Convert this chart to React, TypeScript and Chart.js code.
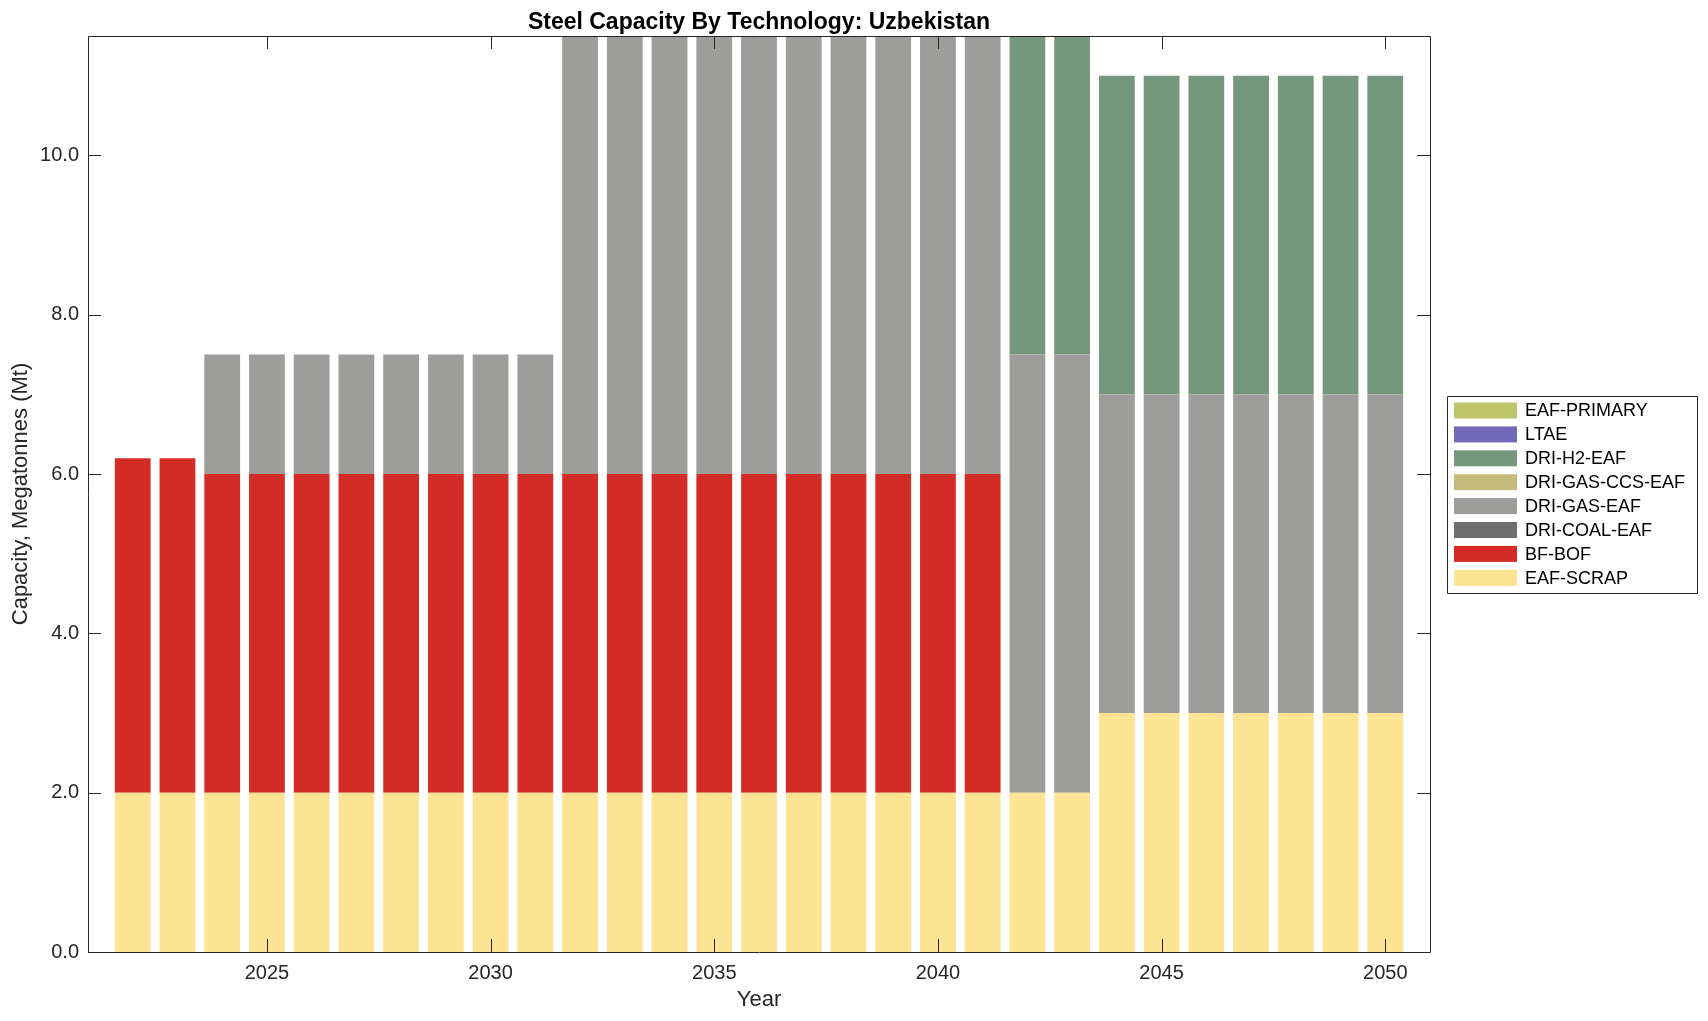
import React, { useEffect, useRef } from "react";
import { Chart, registerables } from "chart.js";

Chart.register(...registerables);

const years = [2022, 2023, 2024, 2025, 2026, 2027, 2028, 2029, 2030, 2031, 2032, 2033, 2034, 2035, 2036, 2037, 2038, 2039, 2040, 2041, 2042, 2043, 2044, 2045, 2046, 2047, 2048, 2049, 2050];

const eafScrap = [2, 2, 2, 2, 2, 2, 2, 2, 2, 2, 2, 2, 2, 2, 2, 2, 2, 2, 2, 2, 2, 2, 3, 3, 3, 3, 3, 3, 3];
const bfBof = [4.2, 4.2, 4, 4, 4, 4, 4, 4, 4, 4, 4, 4, 4, 4, 4, 4, 4, 4, 4, 4, 0, 0, 0, 0, 0, 0, 0, 0, 0];
const driCoalEaf = [0, 0, 0, 0, 0, 0, 0, 0, 0, 0, 0, 0, 0, 0, 0, 0, 0, 0, 0, 0, 0, 0, 0, 0, 0, 0, 0, 0, 0];
const driGasEaf = [0, 0, 1.5, 1.5, 1.5, 1.5, 1.5, 1.5, 1.5, 1.5, 6, 6, 6, 6, 6, 6, 6, 6, 6, 6, 5.5, 5.5, 4, 4, 4, 4, 4, 4, 4];
const driGasCcsEaf = [0, 0, 0, 0, 0, 0, 0, 0, 0, 0, 0, 0, 0, 0, 0, 0, 0, 0, 0, 0, 0, 0, 0, 0, 0, 0, 0, 0, 0];
const driH2Eaf = [0, 0, 0, 0, 0, 0, 0, 0, 0, 0, 0, 0, 0, 0, 0, 0, 0, 0, 0, 0, 4.5, 4.5, 4, 4, 4, 4, 4, 4, 4];
const ltae = [0, 0, 0, 0, 0, 0, 0, 0, 0, 0, 0, 0, 0, 0, 0, 0, 0, 0, 0, 0, 0, 0, 0, 0, 0, 0, 0, 0, 0];
const eafPrimary = [0, 0, 0, 0, 0, 0, 0, 0, 0, 0, 0, 0, 0, 0, 0, 0, 0, 0, 0, 0, 0, 0, 0, 0, 0, 0, 0, 0, 0];

const seriesLabels = ["EAF-SCRAP", "BF-BOF", "DRI-COAL-EAF", "DRI-GAS-EAF", "DRI-GAS-CCS-EAF", "DRI-H2-EAF", "LTAE", "EAF-PRIMARY"];
const seriesColors = ["#fde394", "#d32b25", "#6f6f6f", "#9d9d9b", "#c4bb7c", "#75977d", "#7469b8", "#bdc66b"];
const seriesValues = [eafScrap, bfBof, driCoalEaf, driGasEaf, driGasCcsEaf, driH2Eaf, ltae, eafPrimary];

const xTicks = [2025, 2030, 2035, 2040, 2045, 2050];
const yTicks = [0, 2, 4, 6, 8, 10];

const titleText = "Steel Capacity By Technology: Uzbekistan";
const xTitle = "Year";
const yTitle = "Capacity, Megatonnes (Mt)";

const FONT = '"Liberation Sans", Helvetica, Arial, sans-serif';
const AXIS_COLOR = "#262626";

const framePlugin = {
  id: "matlabFrame",
  afterDraw(chart: any) {
    const { ctx, chartArea } = chart;
    const { left, right, top, bottom } = chartArea;
    const xs = chart.scales.x;
    const ys = chart.scales.y;
    ctx.save();
    ctx.strokeStyle = AXIS_COLOR;
    ctx.lineWidth = 1;
    ctx.beginPath();
    ctx.rect(Math.round(left) + 0.5, Math.round(top) + 0.5, Math.round(right - left), Math.round(bottom - top));
    ctx.stroke();
    const tl = 13;
    ctx.beginPath();
    xTicks.forEach((v) => {
      const px = Math.round(xs.getPixelForValue(v)) + 0.5;
      ctx.moveTo(px, bottom);
      ctx.lineTo(px, bottom - tl);
      ctx.moveTo(px, top);
      ctx.lineTo(px, top + tl);
    });
    yTicks.forEach((v) => {
      const py = Math.round(ys.getPixelForValue(v)) + 0.5;
      ctx.moveTo(left, py);
      ctx.lineTo(left + tl, py);
      ctx.moveTo(right, py);
      ctx.lineTo(right - tl, py);
    });
    ctx.stroke();

    // title
    ctx.fillStyle = "#000000";
    ctx.font = `bold 23px ${FONT}`;
    ctx.textAlign = "center";
    ctx.textBaseline = "alphabetic";
    ctx.fillText(titleText, (left + right) / 2, top - 7);

    // legend
    const ds = chart.data.datasets;
    const n = ds.length;
    const rowH = 23.9;
    const boxW = 250;
    const boxH = 197;
    const boxL = right + 17;
    const boxT = (top + bottom) / 2 - boxH / 2;
    ctx.strokeStyle = "#262626";
    ctx.beginPath();
    ctx.rect(Math.round(boxL) + 0.5, Math.round(boxT) + 0.5, boxW, boxH);
    ctx.stroke();
    ctx.font = `18px ${FONT}`;
    ctx.textAlign = "left";
    ctx.textBaseline = "middle";
    for (let i = 0; i < n; i++) {
      const d = ds[n - 1 - i];
      const cy = boxT + 15 + i * rowH;
      ctx.fillStyle = d.backgroundColor;
      ctx.fillRect(boxL + 7, cy - 8, 63, 16);
      ctx.fillStyle = "#000000";
      ctx.fillText(d.label, boxL + 78, cy + 1);
    }
    ctx.restore();
  },
};

export default function App() {
  const canvasRef = useRef<HTMLCanvasElement | null>(null);

  useEffect(() => {
    const canvas = canvasRef.current;
    if (!canvas) return;
    const chart = new Chart(canvas, {
      type: "bar",
      data: {
        labels: years,
        datasets: seriesLabels.map((label, i) => ({
          label,
          data: seriesValues[i],
          backgroundColor: seriesColors[i],
          borderWidth: 0,
          barPercentage: 0.8,
          categoryPercentage: 1,
        })),
      },
      options: {
        responsive: false,
        animation: false,
        devicePixelRatio: 1,
        layout: { padding: { top: 36, right: 278, left: 0, bottom: 0 } },
        plugins: {
          legend: { display: false },
          title: { display: false },
          tooltip: { enabled: false },
        },
        scales: {
          x: {
            type: "linear",
            stacked: true,
            min: 2021,
            max: 2051,
            offset: false,
            grid: { display: false, drawTicks: false },
            border: { display: false },
            afterBuildTicks: (s: any) => {
              s.ticks = xTicks.map((v) => ({ value: v }));
            },
            afterFit: (s: any) => {
              s.height = 69;
            },
            ticks: {
              padding: 9,
              color: AXIS_COLOR,
              font: { family: FONT, size: 20 },
              maxRotation: 0,
              autoSkip: false,
              callback: (v: any) => String(v),
            },
            title: {
              display: true,
              text: xTitle,
              color: AXIS_COLOR,
              font: { family: FONT, size: 22 },
              padding: { top: 0, bottom: 8 },
            },
          },
          y: {
            type: "linear",
            stacked: true,
            min: 0,
            max: 11.5,
            grid: { display: false, drawTicks: false },
            border: { display: false },
            afterBuildTicks: (s: any) => {
              s.ticks = yTicks.map((v) => ({ value: v }));
            },
            afterFit: (s: any) => {
              s.width = 88;
            },
            ticks: {
              padding: 9,
              color: AXIS_COLOR,
              font: { family: FONT, size: 20 },
              callback: (v: any) => Number(v).toFixed(1),
            },
            title: {
              display: true,
              text: yTitle,
              color: AXIS_COLOR,
              font: { family: FONT, size: 22 },
              padding: { top: 8, bottom: 0 },
            },
          },
        },
      },
      plugins: [framePlugin],
    } as any);
    return () => chart.destroy();
  }, []);

  return (
    <div style={{ position: "fixed", left: 0, top: 0, width: 1708, height: 1021, background: "#ffffff" }}>
      <canvas ref={canvasRef} width={1708} height={1021} style={{ width: 1708, height: 1021, display: "block" }} />
    </div>
  );
}
